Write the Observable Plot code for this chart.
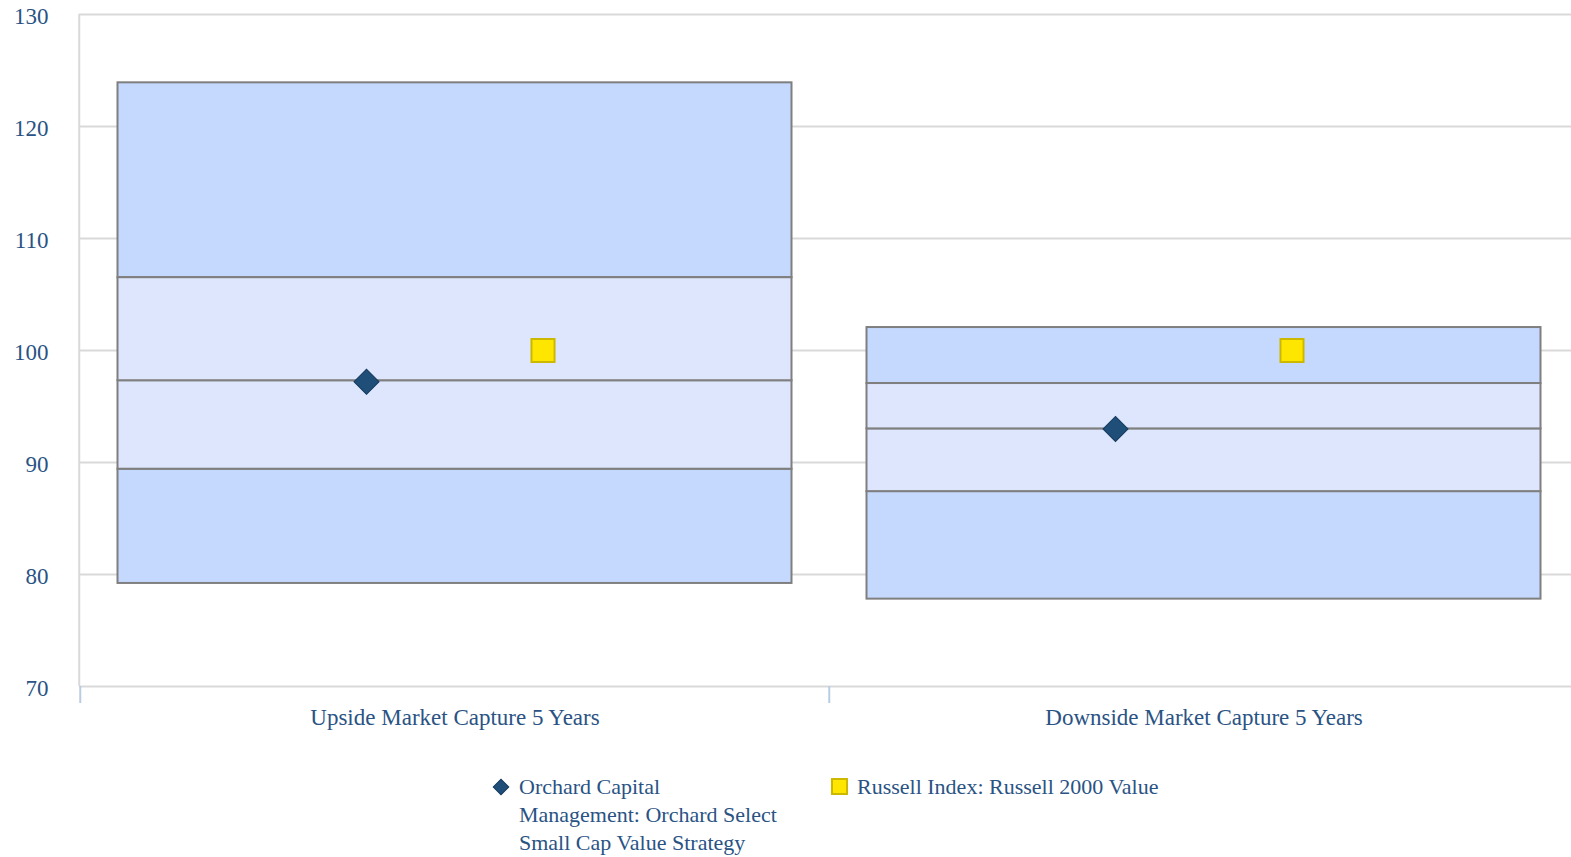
<!DOCTYPE html>
<html>
<head>
<meta charset="utf-8">
<script src="https://cdn.jsdelivr.net/npm/d3@7"></script>
<script src="https://cdn.jsdelivr.net/npm/@observablehq/plot@0.6"></script>
<style>
  body { margin: 0; background: #fff; font-family: "Liberation Serif", "Times New Roman", serif; }
  #legend { display: flex; align-items: flex-start; margin-top: 28px; margin-left: 492px; color: #2a5384; font-size: 22px; line-height: 28px; }
  .item { display: flex; align-items: flex-start; }
  .item svg { margin-top: 5px; margin-right: 9px; flex: none; }
  .item1 { width: 312px; }
  .item2 { margin-left: 27px; }
</style>
</head>
<body>
<div id="chart"></div>
<div id="legend"></div>
<script>
const categories = ["Upside Market Capture 5 Years", "Downside Market Capture 5 Years"];
const top5 = [123.9, 102.05];
const upperQ = [106.5, 97.05];
const medianV = [97.3, 93.0];
const lowerQ = [89.4, 87.4];
const bottom95 = [79.2, 77.8];
const orchard = [97.2, 93.0];
const russell = [100, 100];
const yTicks = [70, 80, 90, 100, 110, 120, 130];
const seriesLines = [["Orchard Capital", "Management: Orchard Select", "Small Cap Value Strategy"], ["Russell Index: Russell 2000 Value"]];

const rows = categories.map((c, i) => ({
  cat: c, t: top5[i], uq: upperQ[i], m: medianV[i], lq: lowerQ[i], b: bottom95[i], o: orchard[i], r: russell[i]
}));

const W = 1571, H = 745;
const left = 79, right = 1578;
const bw = (right - left) / categories.length;
const textColor = "#2a5384";
const outerFill = "#c5d8fe", innerFill = "#dde6fd", boxStroke = "#7f7f7f";
const inset = 37.5;
const font = "Liberation Serif, Times New Roman, serif";

const chart = Plot.plot({
  width: W, height: H,
  marginTop: 14, marginLeft: left, marginRight: 0, marginBottom: H - 686,
  style: { fontFamily: font, fontSize: "23px", color: textColor, background: "#fff" },
  x: { type: "band", domain: categories, range: [left, right], padding: 0 },
  y: { domain: [70, 130], ticks: yTicks },
  marks: [
    Plot.gridY(yTicks, { stroke: "#d9d9d9", strokeOpacity: 1, strokeWidth: 2 }),
    Plot.ruleX([categories[0]], { dx: -bw / 2 - 1, stroke: "#d9d9d9", strokeWidth: 2 }),
    Plot.axisX({ tickSize: 17, tickFormat: () => "", dx: -bw / 2, stroke: "#b8cce4", strokeWidth: 2, tickPadding: 0, label: null }),
    Plot.axisX({ tickSize: 0, tickPadding: 22, fill: textColor, fontSize: 23, fontFamily: font, label: null }),
    Plot.axisY({ ticks: yTicks, tickSize: 0, tickPadding: 31, fill: textColor, fontSize: 23, fontFamily: font, label: null, dy: 2 }),
    // outer ranges
    Plot.rectY(rows, { x: "cat", y1: "uq", y2: "t", fill: outerFill, stroke: boxStroke, strokeWidth: 2, insetLeft: inset, insetRight: inset }),
    Plot.rectY(rows, { x: "cat", y1: "b", y2: "lq", fill: outerFill, stroke: boxStroke, strokeWidth: 2, insetLeft: inset, insetRight: inset }),
    // inner quartiles
    Plot.rectY(rows, { x: "cat", y1: "lq", y2: "m", fill: innerFill, stroke: boxStroke, strokeWidth: 2, insetLeft: inset, insetRight: inset }),
    Plot.rectY(rows, { x: "cat", y1: "m", y2: "uq", fill: innerFill, stroke: boxStroke, strokeWidth: 2, insetLeft: inset, insetRight: inset }),
    // points
    Plot.dot(rows, { x: "cat", y: "o", symbol: "square", rotate: 45, r: 10, fill: "#1f4e79", stroke: "#163a5c", strokeWidth: 1, dx: -88.5 }),
    Plot.dot(rows, { x: "cat", y: "r", symbol: "square", r: 13, fill: "#ffe600", stroke: "#cdb800", strokeWidth: 2, dx: 88 })
  ]
});
document.getElementById("chart").appendChild(chart);

const legend = document.getElementById("legend");
legend.innerHTML = `
  <div class="item item1"><svg width="18" height="18" viewBox="0 0 18 18"><rect x="3.5" y="3.5" width="11" height="11" fill="#1f4e79" stroke="#163a5c" transform="rotate(45 9 9)"/></svg><span>${seriesLines[0].join("<br>")}</span></div>
  <div class="item item2"><svg width="17" height="17" viewBox="0 0 17 17"><rect x="1" y="1" width="15" height="15" fill="#ffe600" stroke="#cdb800" stroke-width="2"/></svg><span>${seriesLines[1].join("<br>")}</span></div>`;
</script>
</body>
</html>
